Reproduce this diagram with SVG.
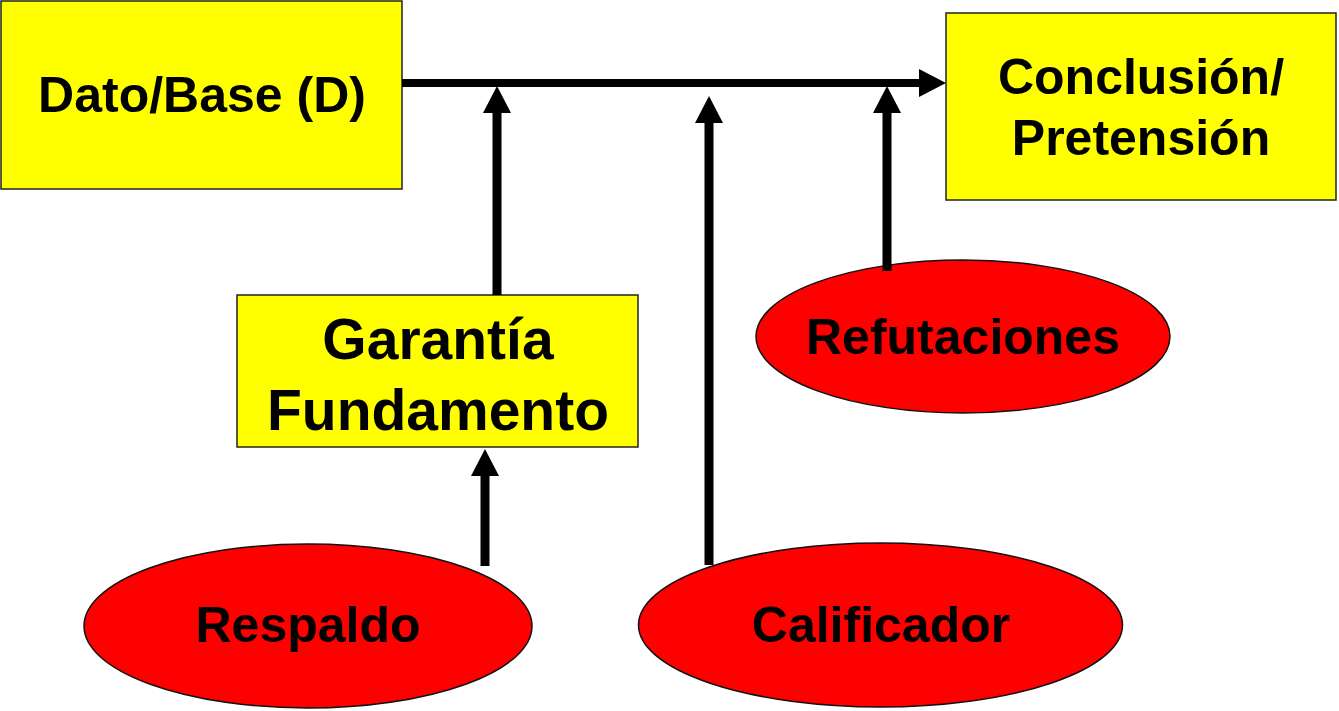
<svg xmlns="http://www.w3.org/2000/svg" width="1339" height="711" viewBox="0 0 1339 711">
<defs>
<style>
.box{fill:#ffff00;stroke:#222;stroke-width:1.5}
.ell{fill:#ff0000;stroke:#111;stroke-width:1.5}
.t{font-family:"Liberation Sans",Arial,sans-serif;font-weight:bold;font-size:50px;fill:#000;text-anchor:middle}
.big{font-size:57px}
.conn{stroke:#000;fill:none}
</style>
<marker id="ah" markerUnits="userSpaceOnUse" markerWidth="27" markerHeight="28" refX="0" refY="14" orient="auto" viewBox="0 0 27 28">
<path d="M0,0 L27,14 L0,28 Z" fill="#000"/>
</marker>
</defs>
<rect width="1339" height="711" fill="#fff"/>
<g id="dato">
<rect class="box" x="1" y="1" width="401" height="188"/>
<text class="t" x="202" y="112">Dato/Base (D)</text>
</g>
<g id="conclusion">
<rect class="box" x="946" y="13" width="390" height="187"/>
<text class="t" x="1141" y="94">Conclusión/</text>
<text class="t" x="1141" y="155">Pretensión</text>
</g>
<g id="garantia">
<rect class="box" x="237" y="295" width="401" height="152"/>
<text class="t big" x="438" y="359">Garantía</text>
<text class="t big" x="438" y="430">Fundamento</text>
</g>
<g id="refutaciones">
<ellipse class="ell" cx="963" cy="336.5" rx="207" ry="76.5"/>
<text class="t" x="963" y="354">Refutaciones</text>
</g>
<g id="respaldo">
<ellipse class="ell" cx="308" cy="626" rx="224" ry="82"/>
<text class="t" x="308" y="642">Respaldo</text>
</g>
<g id="calificador">
<ellipse class="ell" cx="880.5" cy="625" rx="242" ry="82"/>
<text class="t" x="881" y="642">Calificador</text>
</g>
<g id="connectors">
<line class="conn" x1="402" y1="83" x2="919" y2="83" stroke-width="8" marker-end="url(#ah)"/>
<line class="conn" x1="497" y1="295" x2="497" y2="113" stroke-width="9" marker-end="url(#ah)"/>
<line class="conn" x1="709" y1="565" x2="709" y2="123" stroke-width="9" marker-end="url(#ah)"/>
<line class="conn" x1="887" y1="271" x2="887" y2="113" stroke-width="9" marker-end="url(#ah)"/>
<line class="conn" x1="485" y1="566" x2="485" y2="476" stroke-width="9" marker-end="url(#ah)"/>
</g>
</svg>
